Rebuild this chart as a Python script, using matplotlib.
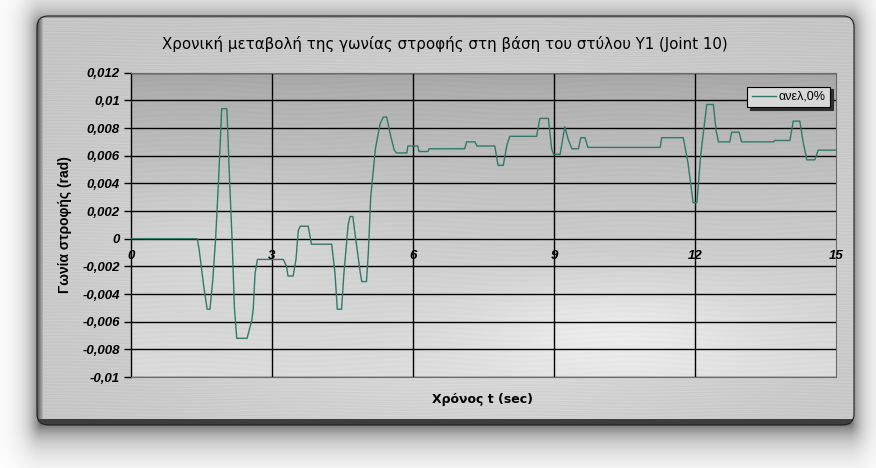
import numpy as np
import matplotlib
matplotlib.use("Agg")
import matplotlib.pyplot as plt
from matplotlib.patches import FancyBboxPatch
from matplotlib.lines import Line2D

plt.rcParams['font.family'] = ['Liberation Sans', 'DejaVu Sans']

# data (time in sec, rotation in rad)
t = [0, 1.41, 1.45, 1.55, 1.62, 1.68, 1.74, 1.80, 1.86, 1.93, 2.04, 2.10, 2.15, 2.20,
     2.25, 2.47, 2.57, 2.60, 2.64, 2.69, 3.24, 3.31, 3.34, 3.45, 3.51, 3.56, 3.60, 3.77,
     3.84, 4.27, 4.34, 4.39, 4.48, 4.53, 4.62, 4.66, 4.72, 4.78, 4.88, 4.91, 5.01, 5.05,
     5.10, 5.20, 5.30, 5.37, 5.44, 5.52, 5.60, 5.65, 5.87, 5.89, 6.10, 6.13, 6.32, 6.34,
     7.10, 7.14, 7.32, 7.36, 7.74, 7.81, 7.92, 8.00, 8.06, 8.63, 8.70, 8.88, 8.95, 8.99,
     9.13, 9.23, 9.30, 9.38, 9.52, 9.57, 9.66, 9.72, 11.26, 11.29, 11.75, 11.85, 11.96,
     12.04, 12.12, 12.25, 12.39, 12.45, 12.50, 12.74, 12.78, 12.94, 12.99, 13.67, 13.70,
     14.02, 14.09, 14.23, 14.30, 14.38, 14.55, 14.62, 15.0]
angle = [0, 0, -0.0008, -0.0035, -0.0051, -0.0051, -0.0030, 0.0, 0.0040, 0.0094, 0.0094,
         0.0040, 0.0, -0.0050, -0.0072, -0.0072, -0.0059, -0.0051, -0.0025, -0.0015,
         -0.0015, -0.0020, -0.0027, -0.0027, -0.0015, 0.0006, 0.0009, 0.0009, -0.0004,
         -0.0004, -0.0025, -0.0051, -0.0051, -0.0025, 0.0010, 0.0016, 0.0016, 0.0, -0.0025,
         -0.0031, -0.0031, -0.0010, 0.0030, 0.0065, 0.0083, 0.0088, 0.0088, 0.0075, 0.0064,
         0.0062, 0.0062, 0.0067, 0.0067, 0.0063, 0.0063, 0.0065, 0.0065, 0.0070, 0.0070,
         0.0067, 0.0067, 0.0053, 0.0053, 0.0068, 0.0074, 0.0074, 0.0087, 0.0087, 0.0065,
         0.0061, 0.0061, 0.0081, 0.0072, 0.0065, 0.0065, 0.0073, 0.0073, 0.0066, 0.0066,
         0.0073, 0.0073, 0.0055, 0.0026, 0.0026, 0.0060, 0.0097, 0.0097, 0.0078, 0.0070,
         0.0070, 0.0077, 0.0077, 0.0070, 0.0070, 0.0071, 0.0071, 0.0085, 0.0085, 0.0070,
         0.0057, 0.0057, 0.0064, 0.0064]
x_ticks = [0, 3, 6, 9, 12, 15]
y_ticks = [-0.01, -0.008, -0.006, -0.004, -0.002, 0, 0.002, 0.004, 0.006, 0.008, 0.01, 0.012]
y_labels = ['-0,01', '-0,008', '-0,006', '-0,004', '-0,002', '0', '0,002', '0,004',
            '0,006', '0,008', '0,01', '0,012']
series_name = 'ανελ,0%'

W, H = 876, 468
fig = plt.figure(figsize=(W / 100, H / 100), dpi=100)
fig.patch.set_facecolor('white')

# --- background: drop shadow + brushed metal frame ---
bg = fig.add_axes([0, 0, 1, 1])
bg.set_xlim(0, W)
bg.set_ylim(H, 0)
bg.axis('off')

yy, xx = np.mgrid[0:H, 0:W] + 0.5
fx0, fy0, fx1, fy1 = 37, 16, 854, 425

# soft shadow, pushed downwards (longer fall-off below the frame)
sx0, sy0, sx1, sy1 = fx0 + 4, fy0 + 12, fx1 - 4, fy1 - 3
dx = np.maximum(np.maximum(sx0 - xx, xx - sx1), 0)
dy = np.maximum(np.maximum(sy0 - yy, yy - sy1), 0)
d = np.hypot(dx, dy * 0.6)
shade = 0.62 * np.exp(-d / 11.0)
img = np.ones((H, W, 3)) * (1 - shade)[..., None]

# metal surface
metal = (0.77 + 0.12 * np.exp(-((xx - 470) / 330) ** 2 - ((yy - 260) / 170) ** 2)
         + 0.012 * np.sin(yy * 1.9 + 2.0 * np.sin(xx / 37.0))
         + 0.008 * np.sin(yy * 3.1 + xx / 53.0))
metal = np.where(xx < fx0 + 6, 0.30 + 0.07 * (xx - fx0), metal)
metal = np.where(yy > fy1 - 6, 0.24, metal)
metal = np.where(yy < fy0 + 2, 0.6, metal)
metal = np.clip(metal, 0, 1)

r = 11
cx = np.clip(xx, fx0 + r, fx1 - r)
cy = np.clip(yy, fy0 + r, fy1 - r)
inside = (np.hypot(xx - cx, yy - cy) <= r) & (xx >= fx0) & (xx <= fx1) & (yy >= fy0) & (yy <= fy1)
img[inside] = metal[inside][:, None]
bg.imshow(img, extent=[0, W, H, 0], aspect='auto', interpolation='bilinear')
bg.add_patch(FancyBboxPatch((fx0, fy0), fx1 - fx0, fy1 - fy0,
                            boxstyle='round,pad=0,rounding_size=11',
                            facecolor='none', edgecolor='#202020', lw=0.8))

# --- plot area ---
px0, py0, px1, py1 = 131, 72.7, 836, 377
ax = fig.add_axes([px0 / W, 1 - py1 / H, (px1 - px0) / W, (py1 - py0) / H])
ax.set_xlim(0, 15)
ax.set_ylim(-0.01, 0.012)

gy, gx = np.mgrid[0:200, 0:400] / np.array([200.0, 400.0])[:, None, None]
shade_pa = (0.64 + 0.22 * gy ** 0.6
            + 0.08 * np.exp(-((gx - 0.68) / 0.2) ** 2 - ((gy - 0.85) / 0.18) ** 2)
            + 0.04 * np.exp(-((gx - 0.15) / 0.2) ** 2 - ((gy - 0.55) / 0.2) ** 2)
            + 0.010 * np.sin(gy * 380 + 3 * np.sin(gx * 20)))
shade_pa = np.clip(shade_pa, 0, 1)
ax.imshow(np.dstack([shade_pa] * 3), extent=[0, 15, -0.01, 0.012],
          aspect='auto', zorder=0, interpolation='bilinear')

for v in y_ticks:
    ax.axhline(v, color='black', lw=1.0, zorder=1)
for v in x_ticks[1:-1]:
    ax.axvline(v, color='black', lw=1.0, zorder=1)

ax.plot(t, angle, color='#2f7a68', lw=1.0, zorder=3, label=series_name)

for s in ['top', 'right', 'bottom']:
    ax.spines[s].set_color('#6a6a6a')
    ax.spines[s].set_linewidth(0.8)
ax.spines['left'].set_color('black')
ax.spines['left'].set_linewidth(1.0)

ax.set_yticks(y_ticks)
ax.set_yticklabels(y_labels, fontsize=9.5, fontweight='bold', fontstyle='italic')
ax.tick_params(axis='y', length=5, width=1, color='black', pad=3)
ax.set_xticks(x_ticks)
ax.set_xticklabels([])
ax.tick_params(axis='x', length=0)
for v in x_ticks:
    ax.annotate(str(v), (v, 0), xytext=(0, -8), textcoords='offset points',
                ha='center', va='top', fontsize=9.5, fontweight='bold',
                fontstyle='italic', zorder=4)

leg = ax.legend(handles=[Line2D([], [], color='#2f7a68', lw=1.0)], labels=[series_name],
                loc='upper right', bbox_to_anchor=(830 / W, 1 - 86.5 / H),
                bbox_transform=fig.transFigure, frameon=True, fancybox=False,
                shadow={'color': '#303030', 'alpha': 1.0}, fontsize=9,
                handlelength=1.9, handletextpad=0.25, borderpad=0.35, borderaxespad=0)
leg.get_frame().set_facecolor('#d8d8d8')
leg.get_frame().set_edgecolor('black')
leg.get_frame().set_linewidth(0.8)
leg.get_frame().set_alpha(1.0)

# --- titles ---
fig.text(445 / W, 1 - 44 / H, 'Χρονική μεταβολή της γωνίας στροφής στη βάση του στύλου Υ1 (Joint 10)',
         ha='center', va='center', fontsize=10.8, family='DejaVu Sans', color='black')
fig.text(483 / W, 1 - 400 / H, 'Χρόνος t (sec)', ha='center', va='center',
         fontsize=9, fontweight='bold', family='DejaVu Sans', color='black')
fig.text(65 / W, 1 - 225 / H, 'Γωνία στροφής (rad)', ha='center', va='center',
         rotation=90, fontsize=10, fontweight='bold', color='black')

fig.savefig('out.png', dpi=100)
